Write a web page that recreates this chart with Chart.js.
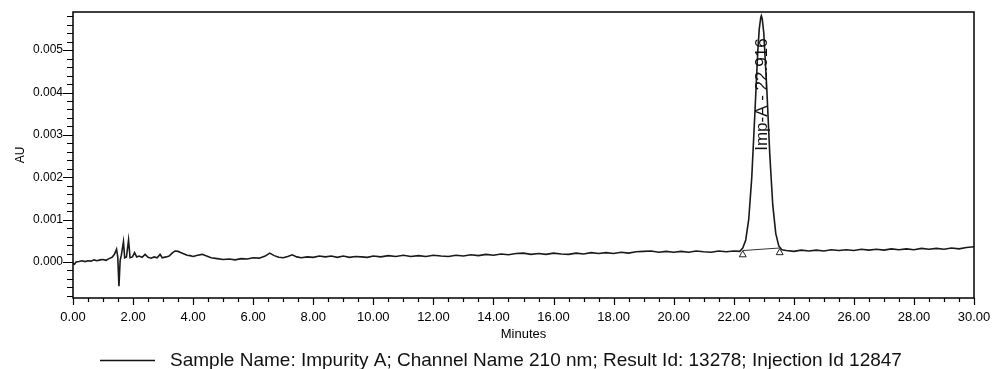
<!DOCTYPE html>
<html>
<head>
<meta charset="utf-8">
<script src="https://cdn.jsdelivr.net/npm/chart.js@4.4.0/dist/chart.umd.min.js"></script>
<style>
    html, body { margin: 0; padding: 0; background: #ffffff; }
    #wrap { width: 996px; height: 369px; position: relative; }
</style>
</head>
<body>
<div id="wrap"><canvas id="myChart"></canvas></div>
<script>

// retention time (min) and detector response (AU)
const minutes = [
    0.00, 0.05, 0.10, 0.20, 0.30, 0.40, 0.50, 0.60, 0.70, 0.80,
    0.90, 1.00, 1.10, 1.20, 1.30, 1.38, 1.45, 1.49, 1.53, 1.57,
    1.61, 1.68, 1.72, 1.78, 1.85, 1.90, 1.98, 2.05, 2.12, 2.20,
    2.30, 2.40, 2.50, 2.60, 2.70, 2.80, 2.90, 2.97, 3.10, 3.20,
    3.30, 3.40, 3.50, 3.60, 3.70, 3.80, 3.90, 4.00, 4.15, 4.30,
    4.45, 4.60, 4.80, 5.00, 5.20, 5.40, 5.60, 5.80, 6.00, 6.20,
    6.40, 6.55, 6.70, 6.85, 7.00, 7.15, 7.30, 7.45, 7.60, 7.80,
    8.00, 8.20, 8.40, 8.60, 8.80, 9.00, 9.20, 9.40, 9.60, 9.80,
    10.00, 10.25, 10.50, 10.75, 11.00, 11.25, 11.50, 11.75, 12.00, 12.25,
    12.50, 12.75, 13.00, 13.25, 13.50, 13.75, 14.00, 14.25, 14.50, 14.75,
    15.00, 15.25, 15.50, 15.75, 16.00, 16.25, 16.50, 16.75, 17.00, 17.25,
    17.50, 17.75, 18.00, 18.25, 18.50, 18.75, 19.00, 19.25, 19.50, 19.75,
    20.00, 20.25, 20.50, 20.75, 21.00, 21.25, 21.50, 21.75, 22.00, 22.20,
    22.30, 22.40, 22.50, 22.60, 22.70, 22.80, 22.85, 22.90, 22.92, 22.95,
    23.00, 23.10, 23.20, 23.30, 23.40, 23.50, 23.60, 23.75, 24.00, 24.25,
    24.50, 24.75, 25.00, 25.25, 25.50, 25.75, 26.00, 26.25, 26.50, 26.75,
    27.00, 27.25, 27.50, 27.75, 28.00, 28.25, 28.50, 28.75, 29.00, 29.25,
    29.50, 29.75, 30.00
]

const au = [
    -0.00003, -0.00005, 0.00000, 0.00001, 0.00003, 0.00001, 0.00003, 0.00002, 0.00005, 0.00003,
    0.00005, 0.00006, 0.00004, 0.00008, 0.00011, 0.00018, 0.00030, 0.00012, -0.00057, 0.00004,
    0.00016, 0.00048, 0.00010, 0.00012, 0.00052, 0.00010, 0.00012, 0.00022, 0.00012, 0.00014,
    0.00011, 0.00018, 0.00011, 0.00009, 0.00012, 0.00010, 0.00018, 0.00010, 0.00012, 0.00014,
    0.00021, 0.00026, 0.00025, 0.00022, 0.00019, 0.00016, 0.00015, 0.00013, 0.00016, 0.00018,
    0.00014, 0.00010, 0.00008, 0.00006, 0.00007, 0.00005, 0.00008, 0.00007, 0.00010, 0.00009,
    0.00014, 0.00021, 0.00015, 0.00011, 0.00010, 0.00013, 0.00017, 0.00012, 0.00010, 0.00012,
    0.00011, 0.00014, 0.00012, 0.00014, 0.00011, 0.00014, 0.00011, 0.00013, 0.00012, 0.00011,
    0.00014, 0.00012, 0.00015, 0.00013, 0.00016, 0.00013, 0.00015, 0.00013, 0.00016, 0.00014,
    0.00013, 0.00016, 0.00014, 0.00017, 0.00015, 0.00018, 0.00016, 0.00019, 0.00017, 0.00020,
    0.00021, 0.00018, 0.00020, 0.00018, 0.00021, 0.00019, 0.00018, 0.00021, 0.00019, 0.00022,
    0.00020, 0.00022, 0.00020, 0.00023, 0.00021, 0.00024, 0.00025, 0.00026, 0.00023, 0.00025,
    0.00023, 0.00025, 0.00023, 0.00026, 0.00024, 0.00023, 0.00026, 0.00024, 0.00026, 0.00025,
    0.00033, 0.00052, 0.00101, 0.00199, 0.00345, 0.00496, 0.00550, 0.00577, 0.00581, 0.00573,
    0.00541, 0.00410, 0.00254, 0.00134, 0.00067, 0.00038, 0.00029, 0.00027, 0.00025, 0.00028,
    0.00026, 0.00028, 0.00026, 0.00029, 0.00027, 0.00029, 0.00027, 0.00030, 0.00028, 0.00030,
    0.00028, 0.00031, 0.00029, 0.00031, 0.00029, 0.00032, 0.00030, 0.00032, 0.00030, 0.00033,
    0.00031, 0.00034, 0.00036
]

// integration baseline under the peak and its start/end markers
const baselineMinutes = [22.30, 23.53]
const baselineAu = [0.00027, 0.00033]
const markerAu = [0.00017, 0.00022]

const peakName = 'Imp-A'
const peakTime = 22.916
const legendText = 'Sample Name: Impurity A; Channel Name 210 nm; Result Id: 13278; Injection Id 12847'

const xMin = 0, xMax = 30, xStep = 0.5, xLabelEvery = 2
const yMin = -0.00085, yMax = 0.0059, yStep = 0.0002, yLabelEvery = 0.001

const fontName = "'Liberation Sans', Arial, sans-serif"

function isMultiple(v, m) {
    return Math.abs(v / m - Math.round(v / m)) < 1e-6
}

// frame, tick marks (long for labelled ones), peak label and legend
const drawExtras = {
    id: 'drawExtras',
    afterDatasetsDraw(chart) {
        const ctx = chart.ctx
        const area = chart.chartArea
        const xs = chart.scales.x
        const ys = chart.scales.y

        ctx.save()
        ctx.strokeStyle = '#000000'
        ctx.lineWidth = 1.5
        ctx.strokeRect(area.left, area.top, area.right - area.left, area.bottom - area.top)

        ctx.lineWidth = 1.2
        ctx.beginPath()
        xs.ticks.forEach((t) => {
            const px = Math.round(xs.getPixelForValue(t.value)) + 0.5
            const len = isMultiple(t.value, xLabelEvery) ? 7 : 4
            ctx.moveTo(px, area.bottom)
            ctx.lineTo(px, area.bottom + len)
        })
        ys.ticks.forEach((t) => {
            const py = Math.round(ys.getPixelForValue(t.value)) + 0.5
            const len = isMultiple(t.value, yLabelEvery) ? 10 : 6
            ctx.moveTo(area.left, py)
            ctx.lineTo(area.left - len, py)
        })
        ctx.stroke()

        // peak label, rotated
        ctx.fillStyle = '#111111'
        ctx.font = '17px ' + fontName
        ctx.textAlign = 'center'
        ctx.textBaseline = 'middle'
        ctx.translate(xs.getPixelForValue(peakTime) + 1.5, ys.getPixelForValue(0.00395))
        ctx.rotate(-Math.PI / 2)
        ctx.fillText(peakName + ' - ' + peakTime.toFixed(3), 0, 0)
        ctx.restore()

        // legend line + text
        ctx.save()
        ctx.strokeStyle = '#111111'
        ctx.lineWidth = 1.5
        ctx.beginPath()
        ctx.moveTo(100, 360.5)
        ctx.lineTo(155, 360.5)
        ctx.stroke()
        ctx.fillStyle = '#111111'
        ctx.font = '19px ' + fontName
        ctx.textAlign = 'left'
        ctx.textBaseline = 'middle'
        ctx.fillText(legendText, 170, 361)
        ctx.restore()
    }
}

const ctx = myChart.getContext('2d')
chart = new Chart(ctx, {
    type: 'line',
    data: {
        datasets: [{
            label: legendText,
            data: minutes.map((m, i) => ({ x: m, y: au[i] })),
            borderColor: '#1a1a1a',
            borderWidth: 1.6,
            pointRadius: 0,
            tension: 0,
            fill: false,
            order: 2
        }, {
            label: 'baseline',
            data: baselineMinutes.map((m, i) => ({ x: m, y: baselineAu[i] })),
            borderColor: '#333333',
            borderWidth: 1,
            pointRadius: 0,
            fill: false,
            order: 1
        }, {
            label: 'markers',
            data: baselineMinutes.map((m, i) => ({ x: m, y: markerAu[i] })),
            showLine: false,
            pointStyle: 'triangle',
            pointRadius: 4,
            pointBackgroundColor: '#ffffff',
            pointBorderColor: '#222222',
            pointBorderWidth: 1,
            order: 0
        }]
    },
    options: {
        animation: false,
        responsive: true,
        maintainAspectRatio: false,
        layout: {
            padding: { left: 0, top: 12, right: 22, bottom: 0 }
        },
        plugins: {
            legend: { display: false },
            tooltip: { enabled: false }
        },
        scales: {
            x: {
                type: 'linear',
                min: xMin,
                max: xMax,
                bounds: 'data',
                afterBuildTicks: (scale) => {
                    const t = []
                    for (let i = 0; i * xStep <= xMax + 1e-9; i++) t.push({ value: i * xStep })
                    scale.ticks = t
                },
                afterFit: (scale) => {
                    scale.height = 71
                    scale.paddingLeft = 0
                    scale.paddingRight = 0
                },
                ticks: {
                    autoSkip: false,
                    maxRotation: 0,
                    padding: 12,
                    color: '#000000',
                    font: { family: fontName, size: 13 },
                    callback: (v) => isMultiple(v, xLabelEvery) ? v.toFixed(2) : ''
                },
                grid: { display: false, drawTicks: false },
                border: { display: false },
                title: {
                    display: true,
                    text: 'Minutes',
                    color: '#000000',
                    font: { family: fontName, size: 13 },
                    padding: { top: 0, bottom: 27 }
                }
            },
            y: {
                type: 'linear',
                min: yMin,
                max: yMax,
                bounds: 'data',
                afterBuildTicks: (scale) => {
                    const t = []
                    for (let i = Math.ceil(yMin / yStep); i * yStep <= yMax; i++) t.push({ value: i * yStep })
                    scale.ticks = t
                },
                afterFit: (scale) => {
                    scale.width = 73
                    scale.paddingTop = 0
                    scale.paddingBottom = 0
                },
                ticks: {
                    autoSkip: false,
                    padding: 10,
                    color: '#000000',
                    font: { family: fontName, size: 12 },
                    callback: (v) => isMultiple(v, yLabelEvery) ? (Math.abs(v) < 1e-9 ? 0 : v).toFixed(3) : ''
                },
                grid: { display: false, drawTicks: false },
                border: { display: false },
                title: {
                    display: true,
                    text: 'AU',
                    color: '#000000',
                    font: { family: fontName, size: 12 },
                    padding: { top: 13, bottom: 0 }
                }
            }
        }
    },
    plugins: [drawExtras]
})
</script>
</body>
</html>
